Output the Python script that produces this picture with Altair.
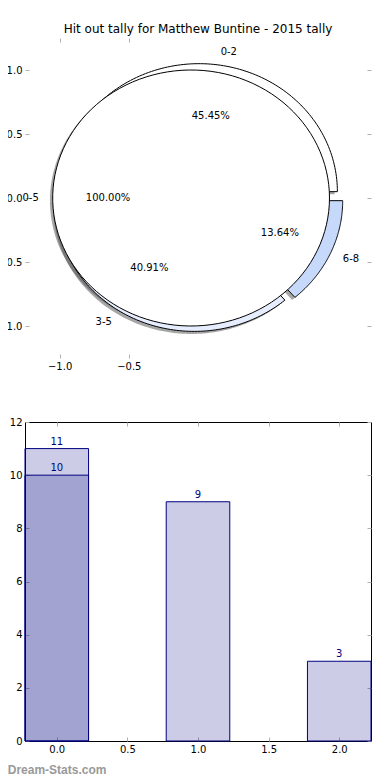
import altair as alt
import pandas as pd

TITLE = "Hit out tally for Matthew Buntine - 2015 tally"
WATERMARK = "Dream-Stats.com"

# pie data (outer exploded pie + the single 100% pie drawn on top)
outer_labels = ["0-2", "3-5", "6-8"]
outer_values = [10, 9, 3]
outer_colors = ["#ffffff", "#e6edff", "#c6d9fb"]
inner_labels = ["0-5"]
inner_values = [11]
inner_colors = ["#ffffff"]

# bar data
bar_x = [0, 1, 2]
bar_a = [11, 9, 3]
bar_b_x = [0]
bar_b = [10]

pie_ticks_x = [-1.0, -0.5]
pie_ticks_y = [-1.0, -0.5, 0.0, 0.5, 1.0]
bar_ticks_x = [0.0, 0.5, 1.0, 1.5, 2.0]
bar_ticks_y = [0, 2, 4, 6, 8, 10, 12]

EXPLODE = 0.05
SHADOW = 0.02
NPTS = 120
BAR_W = 0.45
FONT = "DejaVu Sans"
TICKC = "#b0b0b0"
LEFT_EXT = 20
PANEL_W = 346

pie_df = pd.DataFrame({
    "pie": ["outer"] * len(outer_labels) + ["inner"] * len(inner_labels),
    "i": list(range(len(outer_labels))) + list(range(len(inner_labels))),
    "label": outer_labels + inner_labels,
    "value": outer_values + inner_values,
    "fillc": outer_colors + inner_colors,
})


def ax(orient, values, labels=True, fmt=".1f", pad=3):
    kw = dict(orient=orient, values=values, format=fmt, labels=labels,
              domain=False, grid=False, ticks=True, tickSize=4,
              tickColor=TICKC, tickWidth=1, offset=-4, labelPadding=pad,
              labelFont=FONT, labelFontSize=10, labelColor="black",
              labelFlush=False, labelOverlap=False, title=None)
    if orient == "left":
        kw.update(minExtent=LEFT_EXT, maxExtent=LEFT_EXT)
    else:
        kw.update(minExtent=0)
    return alt.Axis(**kw)


pie_xs = alt.Scale(domain=[-1.25, 1.25], nice=False, zero=False)
pie_ys = alt.Scale(domain=[-1.25, 1.25], nice=False, zero=False)

base = (alt.Chart(pie_df)
        .transform_joinaggregate(total="sum(value)", groupby=["pie"])
        .transform_window(cum="sum(value)", groupby=["pie"],
                          sort=[alt.SortField("i")], frame=[None, 0])
        .transform_calculate(t1="2*PI*(datum.cum - datum.value)/datum.total")
        .transform_calculate(t2="2*PI*datum.cum/datum.total")
        .transform_calculate(tm="(datum.t1 + datum.t2)/2")
        .transform_calculate(full="datum.value == datum.total")
        .transform_calculate(cx=f"{EXPLODE}*cos(datum.tm)")
        .transform_calculate(cy=f"{EXPLODE}*sin(datum.tm)")
        .transform_calculate(pct="format(100*datum.value/datum.total, '.2f') + '%'"))

poly = (base
        .transform_calculate(k=f"sequence(0, {NPTS + 2})")
        .transform_flatten(["k"])
        .transform_calculate(f=f"clamp((datum.k - 1)/({NPTS} - 1), 0, 1)")
        .transform_calculate(ang="datum.t1 + (datum.t2 - datum.t1)*datum.f")
        .transform_calculate(r=f"((datum.k == 0 || datum.k == {NPTS + 1}) && !datum.full) ? 0 : 1")
        .transform_calculate(px="datum.cx + datum.r*cos(datum.ang)")
        .transform_calculate(py="datum.cy + datum.r*sin(datum.ang)")
        .transform_calculate(sx=f"datum.px - {SHADOW}")
        .transform_calculate(sy=f"datum.py - {SHADOW}"))

shadow = poly.mark_line(strokeWidth=0, fillOpacity=0.5, interpolate="linear").encode(
    x=alt.X("sx:Q", scale=pie_xs, axis=ax("top", pie_ticks_x, labels=False)),
    y=alt.Y("sy:Q", scale=pie_ys, axis=ax("right", pie_ticks_y, labels=False)),
    fill=alt.value("#4d4d4d"),
    detail="label:N",
    order="k:Q",
)

wedges = poly.transform_filter("datum.pie == 'outer'").mark_line(
    strokeWidth=1, stroke="black").encode(
    x=alt.X("px:Q", scale=pie_xs, axis=ax("bottom", pie_ticks_x, pad=3)),
    y=alt.Y("py:Q", scale=pie_ys, axis=ax("left", pie_ticks_y)),
    fill=alt.Fill("fillc:N", scale=None),
    detail="label:N",
    order="k:Q",
)

circle = poly.transform_filter("datum.pie == 'inner'").mark_line(
    strokeWidth=1, stroke="black").encode(
    x=alt.X("px:Q", scale=pie_xs, axis=None),
    y=alt.Y("py:Q", scale=pie_ys, axis=None),
    fill=alt.Fill("fillc:N", scale=None),
    detail="label:N",
    order="k:Q",
)

lab = (base.transform_calculate(lx="datum.cx + 1.1*cos(datum.tm)")
       .transform_calculate(ly="datum.cy + 1.1*sin(datum.tm)")
       .transform_calculate(px="datum.cx + 0.6*cos(datum.tm)")
       .transform_calculate(py="datum.cy + 0.6*sin(datum.tm)"))

lab_l = lab.transform_filter("cos(datum.tm) >= 0").mark_text(
    align="left", baseline="middle", font=FONT, fontSize=10, color="black").encode(
    x=alt.X("lx:Q", scale=pie_xs, axis=None), y=alt.Y("ly:Q", scale=pie_ys, axis=None),
    text="label:N")
lab_r = lab.transform_filter("cos(datum.tm) < 0").mark_text(
    align="right", baseline="middle", font=FONT, fontSize=10, color="black").encode(
    x=alt.X("lx:Q", scale=pie_xs, axis=None), y=alt.Y("ly:Q", scale=pie_ys, axis=None),
    text="label:N")
pct = lab.mark_text(align="center", baseline="middle", font=FONT, fontSize=10,
                    color="black").encode(
    x=alt.X("px:Q", scale=pie_xs, axis=None), y=alt.Y("py:Q", scale=pie_ys, axis=None),
    text="pct:N")

pie = alt.layer(shadow, wedges, circle, lab_l, lab_r, pct).resolve_axis(
    x="independent", y="independent").properties(
    width=PANEL_W, height=320,
    title=alt.TitleParams(TITLE, font=FONT, fontSize=12, fontWeight="normal",
                          color="black", anchor="middle", frame="group", offset=2),
)

# bar chart
df_a = pd.DataFrame({"x": bar_x, "v": bar_a})
df_b = pd.DataFrame({"x": bar_b_x, "v": bar_b})
bxs = alt.Scale(domain=[-BAR_W / 2, 2 + BAR_W / 2], nice=False, zero=False)
bys = alt.Scale(domain=[0, 12], nice=False)


def bars(df, axes):
    c = alt.Chart(df).transform_calculate(
        x0=f"datum.x - {BAR_W}/2", x1=f"datum.x + {BAR_W}/2")
    if axes == "main":
        xa = ax("bottom", bar_ticks_x, pad=3)
        ya = ax("left", bar_ticks_y, fmt="d")
    else:
        xa = ax("top", bar_ticks_x, labels=False)
        ya = ax("right", bar_ticks_y, labels=False, fmt="d")
    b = c.mark_bar(fill="#000080", fillOpacity=0.2, stroke="#000080",
                   strokeWidth=1, strokeOpacity=1).encode(
        x=alt.X("x0:Q", scale=bxs, axis=xa), x2="x1:Q",
        y=alt.Y("v:Q", scale=bys, axis=ya), y2=alt.datum(0))
    t = c.mark_text(baseline="bottom", dy=-2, font=FONT, fontSize=10,
                    color="#000080").encode(
        x=alt.X("x:Q", scale=bxs, axis=None),
        y=alt.Y("v:Q", scale=bys, axis=None), text="v:Q")
    return b, t


ba, ta = bars(df_a, "main")
bb, tb = bars(df_b, "second")
barchart = alt.layer(ba, bb, ta, tb).resolve_axis(
    x="independent", y="independent").properties(
    width=PANEL_W, height=319,
    view=alt.ViewBackground(stroke="black", strokeWidth=1))

chart = alt.vconcat(pie, barchart, spacing=45).properties(
    padding={"left": -11, "top": 14, "right": 0, "bottom": 0},
    title=alt.TitleParams(WATERMARK, orient="bottom", anchor="start",
                          font="Liberation Sans", fontSize=12, fontWeight="bold",
                          color="#999999", offset=10, dx=10),
).configure_view(strokeWidth=0)

chart.save("out.html", embed_options={"renderer": "svg", "actions": False})
